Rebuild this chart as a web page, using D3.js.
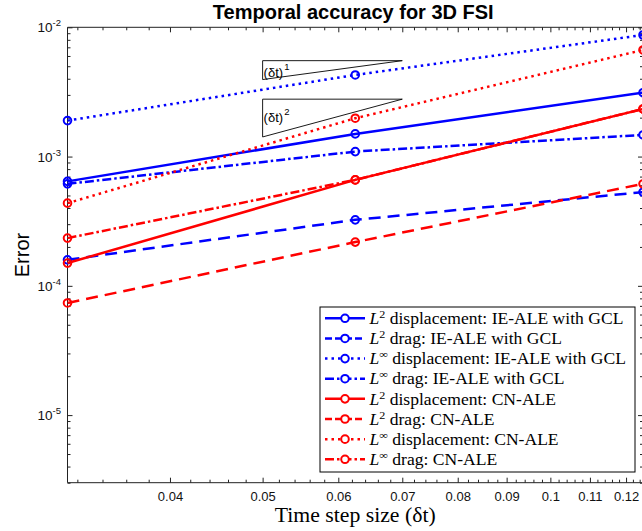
<!DOCTYPE html>
<html>
<head>
<meta charset="utf-8">
<script src="https://cdn.jsdelivr.net/npm/d3@7"></script>
<style>
  html, body { margin: 0; padding: 0; background: #fff; }
  svg { display: block; }
</style>
</head>
<body>
<svg id="chart" width="642" height="531"></svg>
<script>
// Time step sizes (dt) used in the convergence study
const stepSizes = [1 / 32, 1 / 16, 1 / 8];

// Errors per series, one value per step size
const l2DispIE   = [6.43e-4, 1.497e-3, 3.12e-3];
const l2DragIE   = [1.59e-4, 3.24e-4, 5.31e-4];
const linfDispIE = [1.897e-3, 4.28e-3, 8.72e-3];
const linfDragIE = [6.15e-4, 1.093e-3, 1.471e-3];
const l2DispCN   = [1.50e-4, 6.60e-4, 2.336e-3];
const l2DragCN   = [7.37e-5, 2.18e-4, 6.15e-4];
const linfDispCN = [4.36e-4, 1.98e-3, 6.68e-3];
const linfDragCN = [2.34e-4, 6.60e-4, 2.336e-3];

const seriesNames = [
  ["2", " displacement: IE-ALE with GCL"],
  ["2", " drag: IE-ALE with GCL"],
  ["\u221E", " displacement: IE-ALE with GCL"],
  ["\u221E", " drag: IE-ALE with GCL"],
  ["2", " displacement: CN-ALE"],
  ["2", " drag: CN-ALE"],
  ["\u221E", " displacement: CN-ALE"],
  ["\u221E", " drag: CN-ALE"]
];
const seriesValues = [l2DispIE, l2DragIE, linfDispIE, linfDragIE,
                      l2DispCN, l2DragCN, linfDispCN, linfDragCN];
const seriesColors = ["#0000ff", "#0000ff", "#0000ff", "#0000ff",
                      "#ff0000", "#ff0000", "#ff0000", "#ff0000"];
const seriesDash = ["none", "12,7", "2.5,4", "9,3,2.5,3",
                    "none", "12,7", "2.5,4", "9,3,2.5,3"];

// Axis ticks
const xMajorTicks = [0.04, 0.05, 0.06, 0.07, 0.08, 0.09, 0.1, 0.11, 0.12];
const xTickLabels = ["0.04", "0.05", "0.06", "0.07", "0.08", "0.09", "0.1", "0.11", "0.12"];
const xMinorTicks = d3.range(32, 125, 2).map(v => v / 1000).filter(v => !xMajorTicks.some(m => Math.abs(m - v) < 1e-9));
const yExponents = [-2, -3, -4, -5];
const yDomain = [3e-6, 1e-2];

// Reference slope triangles: [x start, x end, top error, order]
const slopeTriangles = [
  [0.05, 0.07, 5.52e-3, 1],
  [0.05, 0.07, 2.78e-3, 2]
];

const svg = d3.select("#chart");
const pLeft = 67.5, pRight = 643, pTop = 27.3, pBottom = 482.7;

const x = d3.scaleLog().domain([stepSizes[0], stepSizes[2]]).range([pLeft, pRight]);
const y = d3.scaleLog().domain(yDomain).range([pBottom, pTop]);

const axisColor = "#222";
const sans = "'Liberation Sans', Arial, Helvetica, sans-serif";
const serif = "'Liberation Serif', 'Times New Roman', serif";

// Minor ticks for y (log decades)
const yMinor = [];
for (let e = -6; e <= -3; e++) {
  for (let k = 2; k <= 9; k++) {
    const v = k * Math.pow(10, e);
    if (v >= yDomain[0] && v <= yDomain[1]) yMinor.push(v);
  }
}
const yMajor = yExponents.map(e => Math.pow(10, e));

function styleAxis(g) {
  g.select(".domain").remove();
  g.selectAll(".tick line").attr("stroke", axisColor).attr("stroke-width", 1);
}

// Bottom axis: majors with labels, minors without
svg.append("g").attr("transform", `translate(0,${pBottom})`)
  .call(d3.axisBottom(x).tickValues(xMajorTicks).tickSize(-5).tickPadding(9)
    .tickFormat((d, i) => xTickLabels[i]))
  .call(styleAxis)
  .call(g => g.selectAll("text").attr("font-family", sans).attr("font-size", 13).attr("fill", "#111"));
svg.append("g").attr("transform", `translate(0,${pBottom})`)
  .call(d3.axisBottom(x).tickValues(xMinorTicks).tickSize(-3).tickFormat(""))
  .call(styleAxis);
// Top axis (mirrored ticks)
svg.append("g").attr("transform", `translate(0,${pTop})`)
  .call(d3.axisTop(x).tickValues(xMajorTicks).tickSize(-5).tickFormat(""))
  .call(styleAxis);
svg.append("g").attr("transform", `translate(0,${pTop})`)
  .call(d3.axisTop(x).tickValues(xMinorTicks).tickSize(-3).tickFormat(""))
  .call(styleAxis);

// Left axis
svg.append("g").attr("transform", `translate(${pLeft},0)`)
  .call(d3.axisLeft(y).tickValues(yMajor).tickSize(-5).tickFormat(""))
  .call(styleAxis);
svg.append("g").attr("transform", `translate(${pLeft},0)`)
  .call(d3.axisLeft(y).tickValues(yMinor).tickSize(-3).tickFormat(""))
  .call(styleAxis);
// Right axis
svg.append("g").attr("transform", `translate(${pRight},0)`)
  .call(d3.axisRight(y).tickValues(yMajor).tickSize(-5).tickFormat(""))
  .call(styleAxis);
svg.append("g").attr("transform", `translate(${pRight},0)`)
  .call(d3.axisRight(y).tickValues(yMinor).tickSize(-3).tickFormat(""))
  .call(styleAxis);

// Y tick labels as powers of ten
const yLab = svg.append("g");
yExponents.forEach(e => {
  const t = yLab.append("text")
    .attr("x", pLeft - 6.5)
    .attr("y", y(Math.pow(10, e)) + 5)
    .attr("text-anchor", "end")
    .attr("font-family", sans)
    .attr("font-size", 13.5)
    .attr("fill", "#111");
  t.append("tspan").text("10");
  t.append("tspan").attr("dy", -6).attr("font-size", 9.5).text(String(e));
});

// Plot frame
svg.append("path")
  .attr("d", `M${pRight},${pTop}H${pLeft}V${pBottom}H${pRight}`)
  .attr("fill", "none").attr("stroke", axisColor).attr("stroke-width", 1);
svg.append("line")
  .attr("x1", pRight).attr("x2", pRight).attr("y1", pTop).attr("y2", pBottom)
  .attr("stroke", axisColor).attr("stroke-width", 1);

// Slope triangles
const tri = svg.append("g");
slopeTriangles.forEach(([x0, x1, yTop, p]) => {
  const yBot = yTop * Math.pow(x0 / x1, p);
  tri.append("path")
    .attr("d", `M${x(x0)},${y(yTop)}L${x(x1)},${y(yTop)}L${x(x0)},${y(yBot)}Z`)
    .attr("fill", "none").attr("stroke", "#000").attr("stroke-width", 0.9);
  const midY = y(Math.sqrt(yTop * yBot));
  const t = tri.append("text")
    .attr("x", x(x0) + 1)
    .attr("y", midY + (p === 1 ? 6.5 : 3.5))
    .attr("font-family", sans)
    .attr("font-size", 13)
    .attr("fill", "#000");
  t.append("tspan").text("(\u03B4t)");
  t.append("tspan").attr("dy", -7).attr("dx", 1).attr("font-size", 9.5).text(String(p));
});

// Series lines and markers
const clipId = "plotClip";
svg.append("clipPath").attr("id", clipId)
  .append("rect").attr("x", pLeft - 8).attr("y", pTop - 8)
  .attr("width", pRight - pLeft + 16).attr("height", pBottom - pTop + 16);

const line = d3.line().x((d, i) => x(stepSizes[i])).y(d => y(d));
const plot = svg.append("g").attr("clip-path", `url(#${clipId})`);
seriesValues.forEach((vals, si) => {
  plot.append("path")
    .attr("d", line(vals))
    .attr("fill", "none")
    .attr("stroke", seriesColors[si])
    .attr("stroke-width", 2.5)
    .attr("stroke-dasharray", seriesDash[si]);
  plot.selectAll(null).data(vals).enter().append("circle")
    .attr("cx", (d, i) => x(stepSizes[i]))
    .attr("cy", d => y(d))
    .attr("r", 3.8)
    .attr("fill", "none")
    .attr("stroke", seriesColors[si])
    .attr("stroke-width", 2);
});

// Title and axis labels
svg.append("text")
  .attr("x", (pLeft + pRight) / 2 - 2).attr("y", 19)
  .attr("text-anchor", "middle")
  .attr("font-family", sans).attr("font-weight", "bold").attr("font-size", 20)
  .attr("fill", "#000")
  .text("Temporal accuracy for 3D FSI");

svg.append("text")
  .attr("transform", `translate(28.5,${(pTop + pBottom) / 2}) rotate(-90)`)
  .attr("text-anchor", "middle")
  .attr("font-family", sans).attr("font-size", 20)
  .attr("fill", "#000")
  .text("Error");

const xMid = (pLeft + pRight) / 2;
const xl = svg.append("text")
  .attr("x", xMid).attr("y", 522)
  .attr("text-anchor", "middle")
  .attr("font-family", serif).attr("font-size", 20)
  .attr("fill", "#000")
  .text("Time step size (\u03B4t)");
const xlw = xl.node().getComputedTextLength();
xl.attr("transform", `translate(${xMid},0) scale(${161 / xlw},1) translate(${-xMid},0)`);

// Legend
const legend = svg.append("g");
const lgX0 = 320, lgY0 = 307, lgW = 315, lgH = 165;
legend.append("rect")
  .attr("x", lgX0).attr("y", lgY0).attr("width", lgW).attr("height", lgH)
  .attr("fill", "#fff").attr("stroke", "#000").attr("stroke-width", 1);
const rowY = d3.scalePoint().domain(d3.range(seriesNames.length)).range([318.3, 459.3]);
const texts = [];
seriesNames.forEach(([sup, rest], si) => {
  const cy = rowY(si);
  legend.append("line")
    .attr("x1", 325).attr("x2", 365).attr("y1", cy).attr("y2", cy)
    .attr("stroke", seriesColors[si]).attr("stroke-width", 2.5)
    .attr("stroke-dasharray", seriesDash[si] === "12,7" ? "7,3" : seriesDash[si]);
  legend.append("circle")
    .attr("cx", 345).attr("cy", cy).attr("r", 3.8)
    .attr("fill", "#fff").attr("stroke", seriesColors[si]).attr("stroke-width", 2);
  const t = legend.append("text")
    .attr("x", 369.5).attr("y", cy + 5.7)
    .attr("font-family", serif).attr("font-size", 16).attr("fill", "#000");
  t.append("tspan").attr("font-style", "italic").text("L");
  t.append("tspan").attr("dy", -6).attr("font-size", 11).text(sup);
  t.append("tspan").attr("dy", 6).text(rest);
  texts.push(t);
});
// Widen the serif text so the longest entry fills the box like typeset text
const w0 = texts[0].node().getComputedTextLength();
const kx = 254 / w0;
texts.forEach(t => {
  const ty = +t.attr("y");
  t.attr("transform", `translate(369.5,${ty}) scale(${kx},1) translate(-369.5,${-ty})`);
});
</script>
</body>
</html>
